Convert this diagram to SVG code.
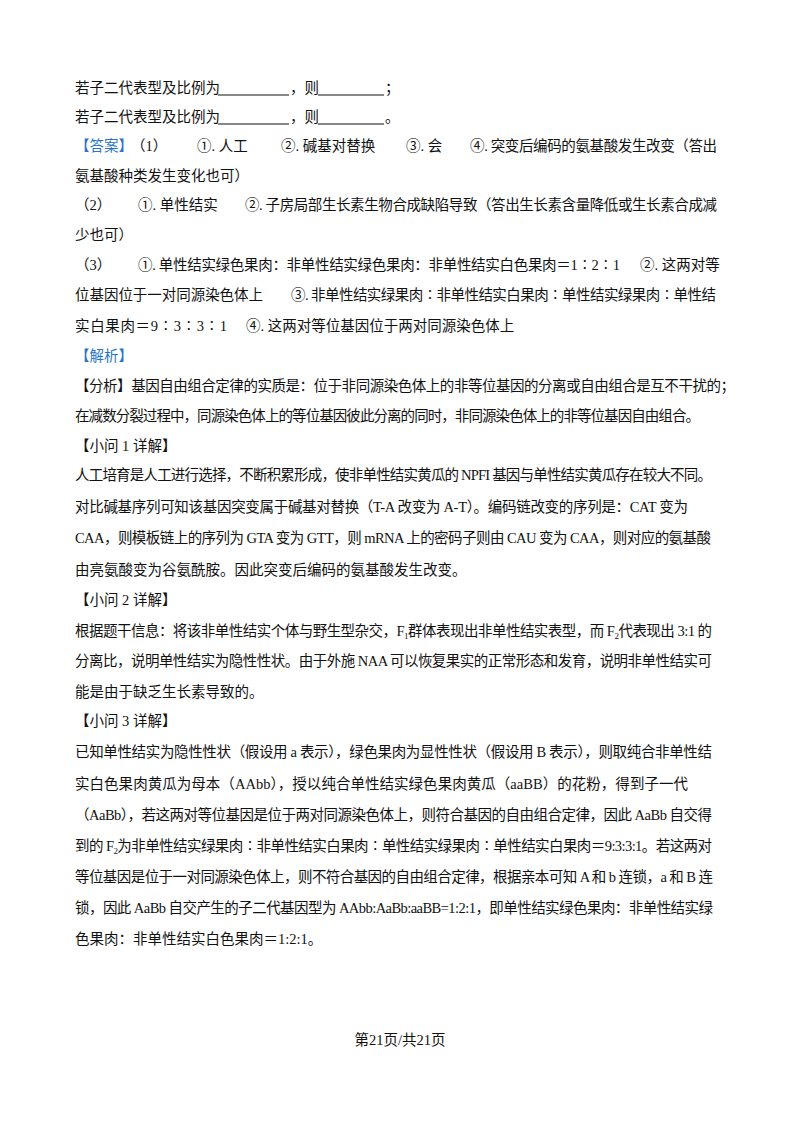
<svg xmlns="http://www.w3.org/2000/svg" width="800" height="1132" viewBox="0 0 800 1132">
<style>
text{font-family:"Liberation Serif","Noto Sans CJK SC",serif;font-size:14.5px;fill:#111}
.b{fill:#2a73c8}
.u{stroke:#111;stroke-width:1}
</style>
<rect width="800" height="1132" fill="#fff"/>
<g id="blanks">
<text x="75" y="93">若子二代表型及比例为</text>
<line class="u" x1="218" y1="95" x2="289" y2="95"/>
<text x="290" y="93">，则</text>
<line class="u" x1="318" y1="95" x2="384" y2="95"/>
<text x="385" y="93">；</text>
<text x="75" y="122">若子二代表型及比例为</text>
<line class="u" x1="218" y1="124" x2="289" y2="124"/>
<text x="290" y="122">，则</text>
<line class="u" x1="318" y1="124" x2="384" y2="124"/>
<text x="385" y="122">。</text>
</g>
<g id="answer">
<text y="151"><tspan x="75" class="b">【答案】</tspan><tspan x="131">（1）</tspan><tspan x="197">①. 人工</tspan><tspan x="281">②. 碱基对替换</tspan><tspan x="406">③. 会</tspan><tspan x="470" textLength="247" lengthAdjust="spacing">④. 突变后编码的氨基酸发生改变（答出</tspan></text>
<text x="75" y="181">氨基酸种类发生变化也可）</text>
<text y="210"><tspan x="75">（2）</tspan><tspan x="138">①. 单性结实</tspan><tspan x="245" textLength="472" lengthAdjust="spacing">②. 子房局部生长素生物合成缺陷导致（答出生长素含量降低或生长素合成减</tspan></text>
<text x="75" y="240">少也可）</text>
<text y="270"><tspan x="75">（3）</tspan><tspan x="138" textLength="482" lengthAdjust="spacing">①. 单性结实绿色果肉：非单性结实绿色果肉：非单性结实白色果肉＝1∶2∶1</tspan><tspan x="640">②. 这两对等</tspan></text>
<text y="300"><tspan x="75" textLength="188" lengthAdjust="spacing">位基因位于一对同源染色体上</tspan><tspan x="291" textLength="425" lengthAdjust="spacing">③. 非单性结实绿果肉∶非单性结实白果肉∶单性结实绿果肉∶单性结</tspan></text>
<text y="331"><tspan x="75" textLength="152" lengthAdjust="spacing">实白果肉＝9∶3∶3∶1</tspan><tspan x="246">④. 这两对等位基因位于两对同源染色体上</tspan></text>
</g>
<g id="analysis">
<text x="75" y="361" class="b">【解析】</text>
<text x="75" y="391" textLength="660" lengthAdjust="spacing">【分析】基因自由组合定律的实质是：位于非同源染色体上的非等位基因的分离或自由组合是互不干扰的；</text>
<text x="75" y="421" textLength="625" lengthAdjust="spacing">在减数分裂过程中，同源染色体上的等位基因彼此分离的同时，非同源染色体上的非等位基因自由组合。</text>
<text x="75" y="451">【小问 1 详解】</text>
<text x="75" y="480" textLength="637" lengthAdjust="spacing">人工培育是人工进行选择，不断积累形成，使非单性结实黄瓜的 NPFI 基因与单性结实黄瓜存在较大不同。</text>
<text x="75" y="512" textLength="613" lengthAdjust="spacing">对比碱基序列可知该基因突变属于碱基对替换（T-A 改变为 A-T）。编码链改变的序列是：CAT 变为</text>
<text x="75" y="543" textLength="636" lengthAdjust="spacing">CAA，则模板链上的序列为 GTA 变为 GTT，则 mRNA 上的密码子则由 CAU 变为 CAA，则对应的氨基酸</text>
<text x="75" y="575">由亮氨酸变为谷氨酰胺。因此突变后编码的氨基酸发生改变。</text>
<text x="75" y="605">【小问 2 详解】</text>
<text x="75" y="636" textLength="637" lengthAdjust="spacing">根据题干信息：将该非单性结实个体与野生型杂交，F<tspan font-size="9" dy="3">1</tspan><tspan dy="-3">群体表现出非单性结实表型，而 F</tspan><tspan font-size="9" dy="3">2</tspan><tspan dy="-3">代表现出 3:1 的</tspan></text>
<text x="75" y="666" textLength="637" lengthAdjust="spacing">分离比，说明单性结实为隐性性状。由于外施 NAA 可以恢复果实的正常形态和发育，说明非单性结实可</text>
<text x="75" y="697">能是由于缺乏生长素导致的。</text>
<text x="75" y="726">【小问 3 详解】</text>
<text x="75" y="757" textLength="637" lengthAdjust="spacing">已知单性结实为隐性性状（假设用 a 表示），绿色果肉为显性性状（假设用 B 表示），则取纯合非单性结</text>
<text x="75" y="789" textLength="613" lengthAdjust="spacing">实白色果肉黄瓜为母本（AAbb），授以纯合单性结实绿色果肉黄瓜（aaBB）的花粉，得到子一代</text>
<text x="75" y="820" textLength="637" lengthAdjust="spacing">（AaBb），若这两对等位基因是位于两对同源染色体上，则符合基因的自由组合定律，因此 AaBb 自交得</text>
<text x="75" y="851" textLength="637" lengthAdjust="spacing">到的 F<tspan font-size="9" dy="3">2</tspan><tspan dy="-3">为非单性结实绿果肉∶非单性结实白果肉∶单性结实绿果肉∶单性结实白果肉＝9:3:3:1。若这两对</tspan></text>
<text x="75" y="882" textLength="638" lengthAdjust="spacing">等位基因是位于一对同源染色体上，则不符合基因的自由组合定律，根据亲本可知 A 和 b 连锁，a 和 B 连</text>
<text x="75" y="913" textLength="638" lengthAdjust="spacing">锁，因此 AaBb 自交产生的子二代基因型为 AAbb:AaBb:aaBB=1:2:1，即单性结实绿色果肉：非单性结实绿</text>
<text x="75" y="944">色果肉：非单性结实白色果肉＝1:2:1。</text>
</g>
<g id="footer">
<text x="400" y="1045" text-anchor="middle" font-size="13">第21页/共21页</text>
</g>
</svg>
